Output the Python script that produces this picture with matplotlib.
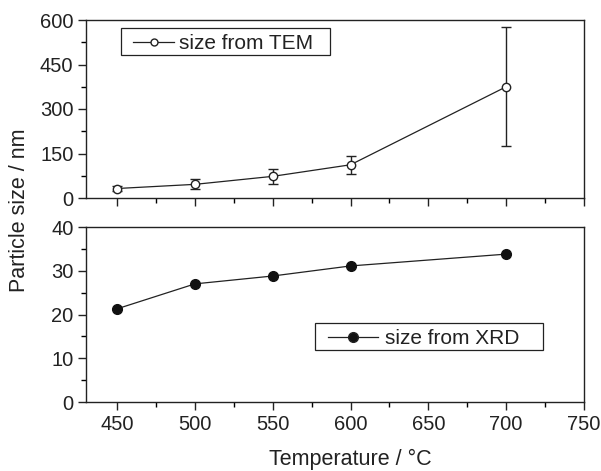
import matplotlib
matplotlib.use("Agg")
import matplotlib.pyplot as plt
from matplotlib.ticker import MultipleLocator
from matplotlib.lines import Line2D
from matplotlib.patches import Rectangle

plt.rcParams['font.family'] = ['Liberation Sans', 'DejaVu Sans']

temps = [450, 500, 550, 600, 700]
tem_size = [32, 46, 73, 112, 375]
tem_err = [10, 17, 25, 30, 200]
xrd_size = [21.3, 27.0, 28.8, 31.1, 33.8]
labels = ['size from TEM', 'size from XRD']

fig = plt.figure(figsize=(6.01, 4.71), dpi=100)
W, H = 601, 471
ax1 = fig.add_axes([86 / W, 1 - 198 / H, (584 - 86) / W, (198 - 20) / H])
ax2 = fig.add_axes([86 / W, 1 - 402 / H, (584 - 86) / W, (402 - 227) / H])

col = '#222222'
ax1.errorbar(temps, tem_size, yerr=tem_err, color=col, lw=0.9, marker='o', ms=6,
             mfc='white', mec=col, mew=1.0, capsize=3.5, elinewidth=1.0, ecolor=col)
ax2.plot(temps, xrd_size, color=col, lw=0.9, marker='o', ms=7, mfc='#111111',
         mec='#111111')

FS = 14.5
LFS = 15
for ax in (ax1, ax2):
    ax.set_xlim(430, 750)
    ax.xaxis.set_major_locator(MultipleLocator(50))
    ax.xaxis.set_minor_locator(MultipleLocator(25))
    ax.tick_params(axis='both', which='major', direction='out', length=6, width=1,
                   labelsize=FS, colors='#222222', top=False, right=False, pad=3)
    ax.tick_params(axis='both', which='minor', direction='out', length=3.5, width=1,
                   top=False, right=False)
    for s in ax.spines.values():
        s.set_linewidth(1.0)
        s.set_color('#222222')

ax1.set_ylim(0, 600)
ax1.yaxis.set_major_locator(MultipleLocator(150))
ax1.yaxis.set_minor_locator(MultipleLocator(75))
ax1.tick_params(axis='x', labelbottom=False)

ax2.set_ylim(0, 40)
ax2.yaxis.set_major_locator(MultipleLocator(10))
ax2.yaxis.set_minor_locator(MultipleLocator(5))


def px(x, y):
    return x / W, 1 - y / H


def manual_legend(box, hx0, hx1, tx, label, mfc, ms):
    x0, y0, x1, y1 = box
    fx0, fy1 = px(x0, y1)
    rect = Rectangle((fx0, fy1), (x1 - x0) / W, (y1 - y0) / H, transform=fig.transFigure,
                     fill=False, edgecolor=col, lw=0.9)
    fig.add_artist(rect)
    yc = (y0 + y1) / 2
    a, b = px(hx0, yc)
    c, _ = px(hx1, yc)
    fig.add_artist(Line2D([a, c], [b, b], transform=fig.transFigure, color=col, lw=0.9))
    fig.add_artist(Line2D([(a + c) / 2], [b], transform=fig.transFigure, marker='o',
                          ms=ms, mfc=mfc, mec=col, mew=1.0, ls='none'))
    tx_, ty_ = px(tx, yc)
    fig.text(tx_, ty_, label, ha='left', va='center_baseline', fontsize=LFS, color=col)


manual_legend((120.7, 28, 330, 55), 133, 174, 179, labels[0], 'white', 5)
manual_legend((315, 323, 543, 350), 328, 378, 385, labels[1], '#111111', 7)

fig.text(20 / W, 1 - 210 / H, 'Particle size / nm', rotation=90, ha='center',
         va='center', fontsize=15.5, color='#222222')
fig.text(350 / W, 1 - 459 / H, 'Temperature / \u00b0C', ha='center', va='center',
         fontsize=15.5, color='#222222')

fig.savefig('out.png', dpi=100)
